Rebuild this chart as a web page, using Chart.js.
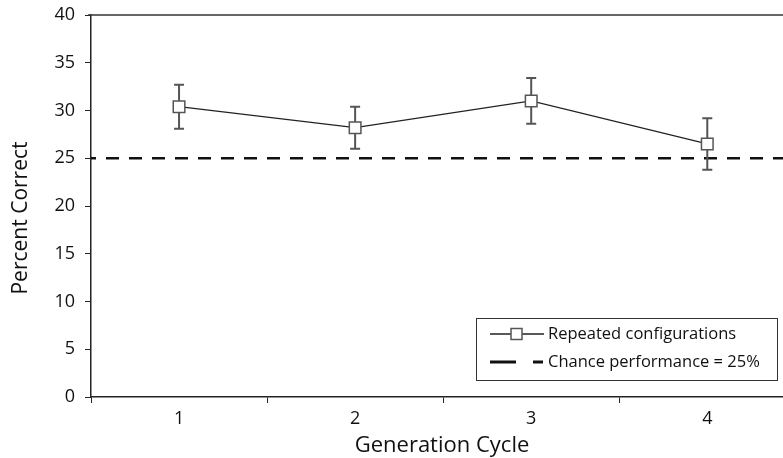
<!DOCTYPE html>
<html>
<head>
<meta charset="utf-8">
<script src="https://cdn.jsdelivr.net/npm/chart.js@4.4.0/dist/chart.umd.min.js"></script>
<style>
  html, body { margin: 0; padding: 0; background: #fff; }
</style>
</head>
<body>
<canvas id="chart" width="783" height="458"></canvas>
<script>
// values
const cycles = [1, 2, 3, 4];
const percentCorrect = [30.4, 28.2, 31.0, 26.5];
const errorSize = [2.3, 2.2, 2.4, 2.7];
const chanceLevel = 25;
const xRange = [0.5, 4.43];
const xTickValues = [0.5, 1, 1.5, 2, 2.5, 3, 3.5, 4];
const seriesLabel = 'Repeated configurations';
const chanceLabel = 'Chance performance = 25%';
const xTitle = 'Generation Cycle';
const yTitle = 'Percent Correct';

const FONT = '"Open Sans", sans-serif';
Chart.defaults.font.family = FONT;
Chart.defaults.color = '#111';

const seriesPoints = cycles.map((c, i) => ({ x: c, y: percentCorrect[i] }));
const chancePoints = xRange.map(x => ({ x: x, y: chanceLevel }));

// error bars + frame + legend + axis titles
const extras = {
  id: 'extras',
  beforeDatasetDraw(chart, args) {
    if (args.index !== 0) return;
    const ctx = chart.ctx;
    const xs = chart.scales.x, ys = chart.scales.y;
    ctx.save();
    ctx.strokeStyle = '#555';
    ctx.lineWidth = 2;
    cycles.forEach((c, i) => {
      const px = xs.getPixelForValue(c);
      const top = ys.getPixelForValue(percentCorrect[i] + errorSize[i]);
      const bot = ys.getPixelForValue(percentCorrect[i] - errorSize[i]);
      ctx.beginPath();
      ctx.moveTo(px, top); ctx.lineTo(px, bot);
      ctx.moveTo(px - 5, top); ctx.lineTo(px + 5, top);
      ctx.moveTo(px - 5, bot); ctx.lineTo(px + 5, bot);
      ctx.stroke();
    });
    ctx.restore();
  },
  afterDraw(chart) {
    const ctx = chart.ctx;
    const a = chart.chartArea;
    ctx.save();
    // top frame line
    ctx.strokeStyle = '#333';
    ctx.lineWidth = 1.5;
    ctx.beginPath();
    ctx.moveTo(a.left - 3, a.top);
    ctx.lineTo(a.right, a.top);
    ctx.stroke();

    // legend box
    const bx = a.right - 307, by = a.bottom - 79, bw = 301, bh = 62;
    ctx.fillStyle = '#fff';
    ctx.fillRect(bx, by, bw, bh);
    ctx.strokeStyle = '#333';
    ctx.lineWidth = 1;
    ctx.strokeRect(bx + 0.5, by + 0.5, bw, bh);

    const r1 = by + 16, r2 = by + 44;
    ctx.strokeStyle = '#222';
    ctx.lineWidth = 1.3;
    ctx.beginPath();
    ctx.moveTo(bx + 14, r1); ctx.lineTo(bx + 68, r1);
    ctx.stroke();
    ctx.fillStyle = '#fff';
    ctx.strokeStyle = '#555';
    ctx.lineWidth = 1.5;
    ctx.fillRect(bx + 35, r1 - 5.5, 11, 11);
    ctx.strokeRect(bx + 35, r1 - 5.5, 11, 11);

    ctx.strokeStyle = '#111';
    ctx.lineWidth = 3;
    ctx.beginPath();
    ctx.moveTo(bx + 14, r2); ctx.lineTo(bx + 40, r2);
    ctx.moveTo(bx + 57, r2); ctx.lineTo(bx + 67, r2);
    ctx.stroke();

    ctx.fillStyle = '#111';
    ctx.font = '16.5px ' + FONT;
    ctx.textBaseline = 'middle';
    ctx.textAlign = 'left';
    ctx.fillText(seriesLabel, bx + 72, r1);
    ctx.fillText(chanceLabel, bx + 72, r2);

    // axis titles
    ctx.font = '22px ' + FONT;
    ctx.textAlign = 'center';
    ctx.fillText(xTitle, 442, 446);
    ctx.font = '21px ' + FONT;
    ctx.translate(21, 218);
    ctx.rotate(-Math.PI / 2);
    ctx.fillText(yTitle, 0, 0);
    ctx.restore();
  }
};

new Chart(document.getElementById('chart'), {
  type: 'line',
  data: {
    datasets: [
      {
        label: seriesLabel,
        data: seriesPoints,
        borderColor: '#222',
        borderWidth: 1.3,
        pointStyle: 'rect',
        pointRadius: 8.2,
        pointBorderWidth: 1.5,
        pointBorderColor: '#555',
        pointBackgroundColor: '#fff',
        tension: 0
      },
      {
        label: chanceLabel,
        data: chancePoints,
        borderColor: '#111',
        borderWidth: 2.5,
        borderDash: [13, 10],
        borderDashOffset: 8,
        pointRadius: 0
      }
    ]
  },
  options: {
    responsive: false,
    animation: false,
    layout: { autoPadding: false, padding: { top: 15, right: 0, left: 0, bottom: 0 } },
    plugins: {
      legend: { display: false },
      tooltip: { enabled: false }
    },
    scales: {
      x: {
        type: 'linear',
        min: xRange[0],
        max: xRange[1],
        afterBuildTicks(scale) {
          scale.ticks = xTickValues.map(v => ({ value: v }));
        },
        afterFit(scale) {
          scale.height = 61;
          scale.paddingLeft = 0;
          scale.paddingRight = 0;
        },
        ticks: {
          autoSkip: false,
          maxRotation: 0,
          padding: 5,
          font: { size: 18 },
          color: '#111',
          callback: v => Number.isInteger(v) ? String(v) : ''
        },
        grid: {
          drawOnChartArea: false,
          tickLength: 6,
          tickColor: ctx => (ctx.tick && !Number.isInteger(ctx.tick.value)) ? '#222' : 'rgba(0,0,0,0)'
        },
        border: { color: '#222', width: 1.5 }
      },
      y: {
        min: 0,
        max: 40,
        afterFit(scale) {
          scale.width = 91;
          scale.paddingTop = 0;
          scale.paddingBottom = 0;
        },
        ticks: {
          stepSize: 5,
          padding: 10,
          font: { size: 18 },
          color: '#111'
        },
        grid: {
          drawOnChartArea: false,
          tickLength: 6,
          tickColor: '#222'
        },
        border: { color: '#222', width: 1.5 }
      }
    }
  },
  plugins: [extras]
});
</script>
</body>
</html>
